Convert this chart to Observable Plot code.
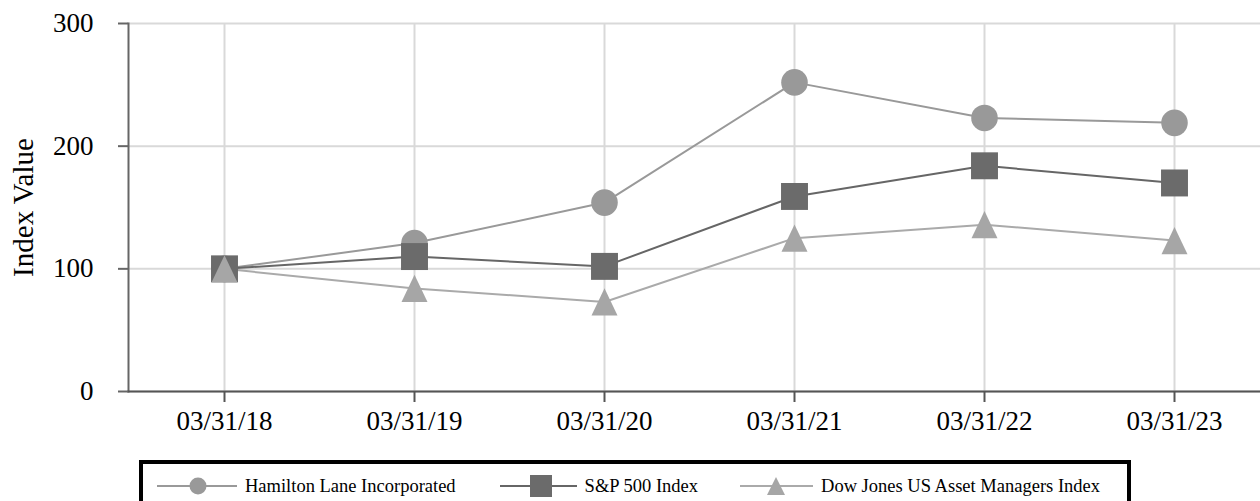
<!DOCTYPE html>
<html>
<head>
<meta charset="utf-8">
<script src="https://cdn.jsdelivr.net/npm/d3@7"></script>
<script src="https://cdn.jsdelivr.net/npm/@observablehq/plot@0.6"></script>
<style>
  body { margin: 0; background: #fff; font-family: "Liberation Serif", "Times New Roman", serif; }
  #chart svg { display: block; }
  .legend {
    margin-left: 139px; margin-top: 5px; width: 984px; height: 44px;
    border: 4px solid #000; box-sizing: content-box;
    display: flex; align-items: center; padding-left: 0;
    font-family: "Liberation Serif", "Times New Roman", serif; font-size: 18.5px; color: #000;
  }
  .item { display: flex; align-items: center; }
  .item svg { display: block; }
  .item span { margin-left: 8px; white-space: nowrap; }
</style>
</head>
<body>
<div id="chart"></div>
<div class="legend" id="legend"></div>
<script>
const dates = ["03/31/18", "03/31/19", "03/31/20", "03/31/21", "03/31/22", "03/31/23"];
const hamilton = [100, 121, 154, 252, 223, 219];
const sp500 = [100, 110, 102, 159, 184, 170];
const dowJones = [100, 84, 73, 125, 136, 123];
const seriesNames = ["Hamilton Lane Incorporated", "S&P 500 Index", "Dow Jones US Asset Managers Index"];
const yTicks = [0, 100, 200, 300];
const yTitle = "Index Value";

const rows = (vals, name) => dates.map((d, i) => ({date: d, value: vals[i], series: name}));
const hamData = rows(hamilton, seriesNames[0]);
const spData = rows(sp500, seriesNames[1]);
const djData = rows(dowJones, seriesNames[2]);

// triangle centred on its bounding box
const triangleBox = {
  draw(ctx, size) {
    const r = Math.sqrt(size / Math.PI);
    const h = r * 1.05;
    ctx.moveTo(0, -h);
    ctx.lineTo(r, h);
    ctx.lineTo(-r, h);
    ctx.closePath();
  }
};

const colHam = "#999999", colSp = "#6b6b6b", colDj = "#a6a6a6";
const serif = "Liberation Serif, Times New Roman, serif";

const chart = Plot.plot({
  width: 1260,
  height: 455,
  marginLeft: 128,
  marginRight: -10,
  marginTop: 23,
  marginBottom: 64,
  style: {fontFamily: serif, color: "#000", background: "#fff"},
  x: {type: "point", domain: dates, padding: 0.5},
  y: {domain: [0, 300]},
  marks: [
    Plot.gridX({stroke: "#d9d9d9", strokeOpacity: 1, strokeWidth: 2}),
    Plot.gridY(yTicks, {stroke: "#d9d9d9", strokeOpacity: 1, strokeWidth: 2}),
    Plot.frame({anchor: "left", stroke: "#666", strokeWidth: 2}),
    Plot.frame({anchor: "bottom", stroke: "#555", strokeWidth: 2}),
    Plot.axisX({tickSize: 11, tickPadding: 8, fontSize: 27, stroke: "#555", strokeWidth: 2, fill: "#000", label: null}),
    Plot.axisY(yTicks, {tickSize: 10, tickPadding: 25, fontSize: 27, stroke: "#666", strokeWidth: 2, fill: "#000", label: null}),
    Plot.text([yTitle], {frameAnchor: "left", dx: -105, rotate: -90, fontSize: 29, lineAnchor: "middle", textAnchor: "middle", fill: "#000"}),
    Plot.line(hamData, {x: "date", y: "value", stroke: colHam, strokeWidth: 2}),
    Plot.line(spData, {x: "date", y: "value", stroke: "#666", strokeWidth: 2}),
    Plot.line(djData, {x: "date", y: "value", stroke: "#aaaaaa", strokeWidth: 2}),
    Plot.dot(hamData, {x: "date", y: "value", symbol: "circle", r: 13.3, fill: colHam, stroke: "none"}),
    Plot.dot(spData, {x: "date", y: "value", symbol: "square", r: 15.2, fill: colSp, stroke: "none"}),
    Plot.dot(djData, {x: "date", y: "value", symbol: triangleBox, r: 13, fill: colDj, stroke: "none"})
  ]
});
document.getElementById("chart").appendChild(chart);

// legend
const legend = document.getElementById("legend");
const legendItems = [
  {name: seriesNames[0], color: colHam, line: colHam, shape: "circle", gapAfter: 44},
  {name: seriesNames[1], color: colSp, line: "#666", shape: "square", gapAfter: 42},
  {name: seriesNames[2], color: colDj, line: "#aaaaaa", shape: "triangle", gapAfter: 0}
];
legendItems.forEach((it, i) => {
  const div = document.createElement("div");
  div.className = "item";
  div.style.marginLeft = (i === 0 ? 14 : 0) + "px";
  div.style.marginRight = it.gapAfter + "px";
  let shape = "";
  if (it.shape === "circle") shape = `<circle cx="41" cy="12" r="8.5" fill="${it.color}"/>`;
  if (it.shape === "square") shape = `<rect x="30" y="1" width="22" height="22" fill="${it.color}"/>`;
  if (it.shape === "triangle") shape = `<path d="M36,3 L45,21 L27,21 Z" fill="${it.color}"/>`;
  const w = it.shape === "triangle" ? 73 : (it.shape === "square" ? 77 : 80);
  div.innerHTML = `<svg width="${w}" height="24"><line x1="0" x2="${w}" y1="12" y2="12" stroke="${it.line}" stroke-width="2"/>${shape}</svg><span>${it.name}</span>`;
  legend.appendChild(div);
});
</script>
</body>
</html>
